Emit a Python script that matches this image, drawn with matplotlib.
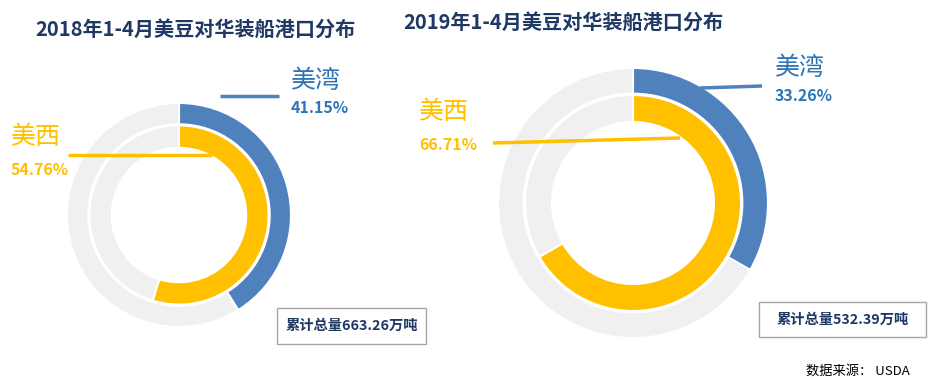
import matplotlib.pyplot as plt
from matplotlib.patches import Rectangle

plt.rcParams['font.family'] = ['Noto Sans CJK SC', 'DejaVu Sans']

# data
years = ["2018", "2019"]
gulf_share = [41.15, 33.26]      # 美湾
west_share = [54.76, 66.71]      # 美西
totals = [663.26, 532.39]        # 万吨

BLUE = "#4F81BD"
GOLD = "#FFC000"
GRAY = "#F0F0F0"
NAVY = "#1F3864"
LBLUE = "#2E75B6"

W, H = 935, 389
fig = plt.figure(figsize=(W / 100, H / 100), dpi=100)

# donut centres / radii in pixels (layout only)
layout = [dict(cx=179, cy=215, r=112), dict(cx=633, cy=203, r=135)]

for i, lay in enumerate(layout):
    cx, cy, r = lay["cx"], lay["cy"], lay["r"]
    ax = fig.add_axes([(cx - r) / W, (H - cy - r) / H, 2 * r / W, 2 * r / H])
    ax.pie([gulf_share[i], 100 - gulf_share[i]], colors=[BLUE, GRAY],
           radius=1.0, startangle=90, counterclock=False,
           wedgeprops=dict(width=0.19, edgecolor="white", linewidth=1.5))
    ax.pie([west_share[i], 100 - west_share[i]], colors=[GOLD, GRAY],
           radius=0.8, startangle=90, counterclock=False,
           wedgeprops=dict(width=0.2, edgecolor="white", linewidth=1.5))
    ax.set_xlim(-1, 1)
    ax.set_ylim(-1, 1)
    ax.set_aspect("equal")
    ax.axis("off")

# overlay in pixel coordinates for labels
ov = fig.add_axes([0, 0, 1, 1], zorder=5)
ov.set_xlim(0, W)
ov.set_ylim(H, 0)
ov.axis("off")
ov.patch.set_alpha(0)

titles_pos = [(195, 29), (563, 22)]
for i, (tx, ty) in enumerate(titles_pos):
    ov.text(tx, ty, f"{years[i]}年1-4月美豆对华装船港口分布", ha="center", va="center",
            fontsize=14.5, fontweight="bold", color=NAVY)

# leader lines + labels
gulf_lines = [((220, 96), (279, 96)), ((700, 88), (762, 86))]
west_lines = [((68, 155), (212, 155)), ((493, 143), (680, 138))]
gulf_txt = [(291, 81, 108), (775, 68, 96)]
west_txt = [(11, 137, 170), (419, 112, 145)]

for i in range(2):
    (x0, y0), (x1, y1) = gulf_lines[i]
    ov.plot([x0, x1], [y0, y1], color=BLUE, lw=2.5, solid_capstyle="butt")
    (x0, y0), (x1, y1) = west_lines[i]
    ov.plot([x0, x1], [y0, y1], color=GOLD, lw=2.5, solid_capstyle="butt")

    gx, gy1, gy2 = gulf_txt[i]
    ov.text(gx, gy1, "美湾", ha="left", va="center", fontsize=18, color=LBLUE)
    ov.text(gx, gy2, f"{gulf_share[i]:.2f}%", ha="left", va="center",
            fontsize=11.5, fontweight="bold", color=LBLUE)
    wx, wy1, wy2 = west_txt[i]
    ov.text(wx, wy1, "美西", ha="left", va="center", fontsize=18, color=GOLD)
    ov.text(wx, wy2, f"{west_share[i]:.2f}%", ha="left", va="center",
            fontsize=11.5, fontweight="bold", color=GOLD)

# total boxes
boxes = [(277, 308, 149, 36), (759, 302, 167, 35)]
for i, (bx, by, bw, bh) in enumerate(boxes):
    ov.add_patch(Rectangle((bx, by), bw, bh, facecolor="white",
                           edgecolor="#A6A6A6", lw=1))
    ov.text(bx + bw / 2, by + bh / 2, f"累计总量{totals[i]:.2f}万吨", ha="center",
            va="center", fontsize=10.3, fontweight="bold", color=NAVY)

ov.text(910, 371, "数据来源： USDA", ha="right", va="center", fontsize=9.5,
        color="black")

fig.savefig("out.png", dpi=100)
